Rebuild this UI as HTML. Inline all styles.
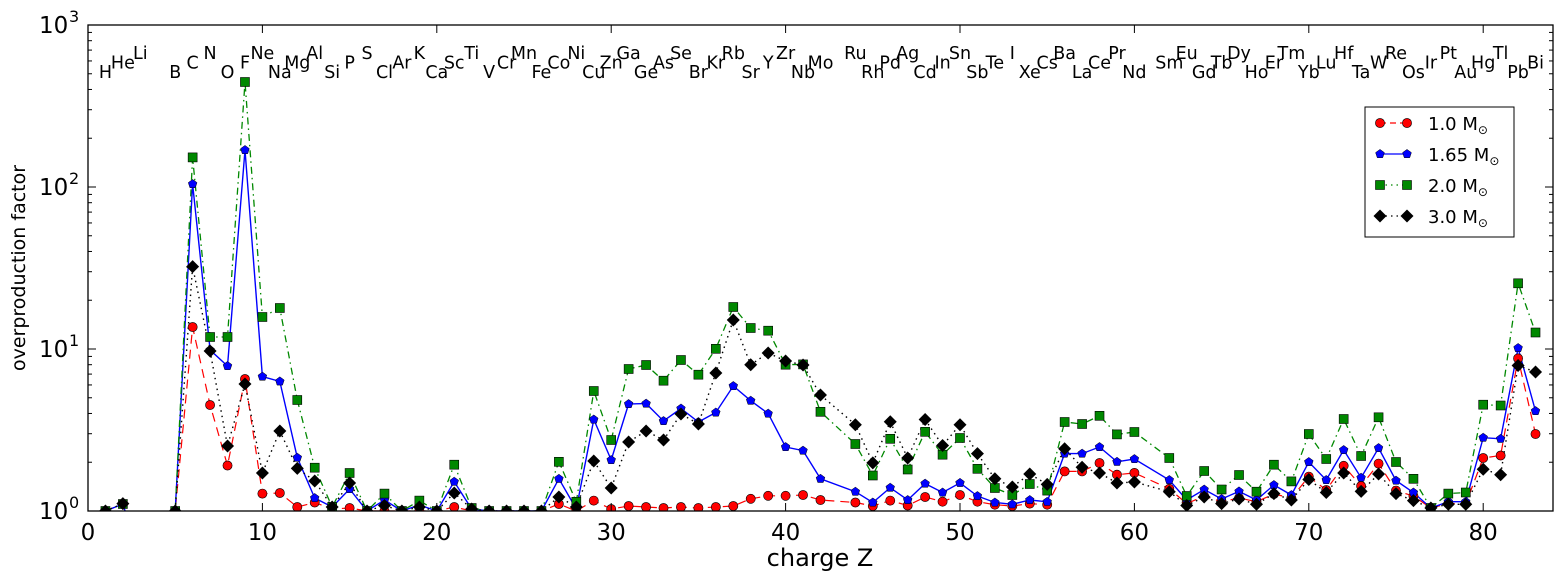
<!DOCTYPE html>
<html><head><meta charset="utf-8"><style>
html,body{margin:0;padding:0;background:#fff;}
svg{display:block;font-family:"DejaVu Sans","Liberation Sans",sans-serif;}
</style></head><body>
<svg id="s" width="1563" height="581" viewBox="0 0 1563 581" xmlns="http://www.w3.org/2000/svg">
<defs><clipPath id="c"><rect x="88" y="25" width="1465" height="486"/></clipPath></defs>
<rect x="0" y="0" width="1563" height="581" fill="#fff"/>
<g id="data" clip-path="url(#c)"></g>
<g id="ticks" stroke="#000" stroke-width="1"></g>
<rect x="88" y="25" width="1465" height="486" fill="none" stroke="#000" stroke-width="1.3"/>
<g font-size="23" text-anchor="middle" fill="#000">
<text x="88" y="540">0</text><text x="262.4" y="540">10</text><text x="436.8" y="540">20</text><text x="611.2" y="540">30</text><text x="785.6" y="540">40</text><text x="960" y="540">50</text><text x="1134.4" y="540">60</text><text x="1308.8" y="540">70</text><text x="1483.2" y="540">80</text>
</g>
<g font-size="23" fill="#000">
<text x="39" y="33">10</text><text x="69" y="22" font-size="16">3</text>
<text x="39" y="195">10</text><text x="69" y="184" font-size="16">2</text>
<text x="39" y="357">10</text><text x="69" y="346" font-size="16">1</text>
<text x="39" y="519">10</text><text x="69" y="508" font-size="16">0</text>
</g>
<text x="820" y="566" font-size="24" text-anchor="middle">charge Z</text>
<text transform="translate(25,268) rotate(-90)" font-size="19" text-anchor="middle">overproduction factor</text>
<g font-size="17.5" text-anchor="middle" fill="#000">
<text x="105.4" y="78">H</text><text x="122.9" y="68.5">He</text><text x="140.3" y="59">Li</text>
<text x="175.2" y="78">B</text><text x="192.6" y="68.5">C</text><text x="210.1" y="59">N</text>
<text x="227.5" y="78">O</text><text x="245" y="68.5">F</text><text x="262.4" y="59">Ne</text>
<text x="279.8" y="78">Na</text><text x="297.3" y="68.5">Mg</text><text x="314.7" y="59">Al</text>
<text x="332.2" y="78">Si</text><text x="349.6" y="68.5">P</text><text x="367" y="59">S</text>
<text x="384.5" y="78">Cl</text><text x="401.9" y="68.5">Ar</text><text x="419.4" y="59">K</text>
<text x="436.8" y="78">Ca</text><text x="454.2" y="68.5">Sc</text><text x="471.7" y="59">Ti</text>
<text x="489.1" y="78">V</text><text x="506.6" y="68.5">Cr</text><text x="524" y="59">Mn</text>
<text x="541.4" y="78">Fe</text><text x="558.9" y="68.5">Co</text><text x="576.3" y="59">Ni</text>
<text x="593.8" y="78">Cu</text><text x="611.2" y="68.5">Zn</text><text x="628.6" y="59">Ga</text>
<text x="646.1" y="78">Ge</text><text x="663.5" y="68.5">As</text><text x="681" y="59">Se</text>
<text x="698.4" y="78">Br</text><text x="715.8" y="68.5">Kr</text><text x="733.3" y="59">Rb</text>
<text x="750.7" y="78">Sr</text><text x="768.2" y="68.5">Y</text><text x="785.6" y="59">Zr</text>
<text x="803" y="78">Nb</text><text x="820.5" y="68.5">Mo</text><text x="855.4" y="59">Ru</text>
<text x="872.8" y="78">Rh</text><text x="890.2" y="68.5">Pd</text><text x="907.7" y="59">Ag</text>
<text x="925.1" y="78">Cd</text><text x="942.6" y="68.5">In</text><text x="960" y="59">Sn</text>
<text x="977.4" y="78">Sb</text><text x="994.9" y="68.5">Te</text><text x="1012.3" y="59">I</text>
<text x="1029.8" y="78">Xe</text><text x="1047.2" y="68.5">Cs</text><text x="1064.6" y="59">Ba</text>
<text x="1082.1" y="78">La</text><text x="1099.5" y="68.5">Ce</text><text x="1117" y="59">Pr</text>
<text x="1134.4" y="78">Nd</text><text x="1169.3" y="68.5">Sm</text><text x="1186.7" y="59">Eu</text>
<text x="1204.2" y="78">Gd</text><text x="1221.6" y="68.5">Tb</text><text x="1239" y="59">Dy</text>
<text x="1256.5" y="78">Ho</text><text x="1273.9" y="68.5">Er</text><text x="1291.4" y="59">Tm</text>
<text x="1308.8" y="78">Yb</text><text x="1326.2" y="68.5">Lu</text><text x="1343.7" y="59">Hf</text>
<text x="1361.1" y="78">Ta</text><text x="1378.6" y="68.5">W</text><text x="1396" y="59">Re</text>
<text x="1413.4" y="78">Os</text><text x="1430.9" y="68.5">Ir</text><text x="1448.3" y="59">Pt</text>
<text x="1465.8" y="78">Au</text><text x="1483.2" y="68.5">Hg</text><text x="1500.6" y="59">Tl</text>
<text x="1518.1" y="78">Pb</text><text x="1535.5" y="68.5">Bi</text>
</g>
<g id="legend">
<rect x="1365" y="107" width="149" height="130" fill="#fff" stroke="#000" stroke-width="1"/>
<g font-size="18" fill="#000">
<text x="1428" y="130">1.0 M<tspan font-size="12" dy="4">⊙</tspan></text>
<text x="1428" y="161">1.65 M<tspan font-size="12" dy="4">⊙</tspan></text>
<text x="1428" y="192">2.0 M<tspan font-size="12" dy="4">⊙</tspan></text>
<text x="1428" y="223">3.0 M<tspan font-size="12" dy="4">⊙</tspan></text>
</g>
</g>
<g id="legm"></g>
</svg>
<script>
var NS="http://www.w3.org/2000/svg";
function X(z){return 88+17.44*z;}
function el(t,a,p){var e=document.createElementNS(NS,t);for(var k in a)e.setAttribute(k,a[k]);p.appendChild(e);return e;}
var Z=[1,2,3,4,5,6,7,8,9,10,11,12,13,14,15,16,17,18,19,20,21,22,23,24,25,26,27,28,29,30,31,32,33,34,35,36,37,38,39,40,41,42,44,45,46,47,48,49,50,51,52,53,54,55,56,57,58,59,60,62,63,64,65,66,67,68,69,70,71,72,73,74,75,76,77,78,79,80,81,82,83];
var R=[511,504,560,560,511,327,405,465.5,379,493.6,493,507,502.5,509,508,511,511,511,511,511,507,511,511,511,511,511,504,511,500.6,509,506,507,508,507,508,507,506,498.8,495.8,495.8,495,500,502.5,506,500.6,505.5,497,501.7,495,501.7,504.7,506,503.6,504.7,471.4,471.4,463,474.7,472.9,488.8,503.6,496,501.7,498,501.7,494,498,476.6,490,465.8,486,463.6,490.6,496,508,503.6,503.6,458,455.5,358.4,434];
var B=[511,504,560,560,511,184,350,366,150,376.6,381.4,457.7,498,507,489,511,500,511,505,511,481.7,509,511,511,511,511,478.8,509,419.5,460,404,403.6,421,408.5,422,412.5,386,400.7,413.6,447,450.6,478.8,491.7,502.5,487.7,500,483.6,492.5,482.9,496,502.5,504.3,500,501.8,453.6,453.6,447,461.8,459,480,500,489.5,499,491.4,500,485,495,462,480,450,477.7,448,480.6,492.5,508,501.7,501.7,437.7,438.8,348,411];
var G=[511,504,560,560,511,157.4,337,337,82,317,308,400,467.7,507,473,511,493.6,511,500.6,511,464.7,508,511,511,511,511,461.8,501.8,391,440,369,365,380.7,360,374.7,348.8,307,328,330.7,364.7,364.4,411.8,444,475.5,438.8,469.5,431.8,454.7,438,468.8,488,495,484,490.6,422,424,415.8,434.4,432,458,496,471,489.5,475,491.7,464.7,481.4,434,459,419,456,417.3,462,478.8,508,493.6,492.5,404.7,405.5,283.3,332.5];
var K=[511,503.6,560,560,511,266.6,351,446,384,473,431,468.4,481,507,483,511,505.5,511,507,511,493,509,511,511,511,511,497,507,461,488,442,431,440,414,424,373,320,364.7,353,361,365,395,424.7,462.9,421.8,458,419.5,445.5,424.7,453.6,478.8,487,474,484.4,448.8,467.3,473,483,482,491.7,505.5,497,503.6,499,504.3,493.6,500,479.5,492.5,473,491.4,474,493.6,500.6,508,504.3,504.3,469.2,474.7,365.5,372];
var D=document.getElementById("data");
function line(Y,col,dash,w){var d="";for(var i=0;i<Z.length;i++)d+=(i?"L":"M")+X(Z[i]).toFixed(1)+","+Y[i];var a={d:d,fill:"none",stroke:col,"stroke-width":w};if(dash)a["stroke-dasharray"]=dash;el("path",a,D);}
function mk(p,t,x,y){
 if(t=="o")el("circle",{cx:x,cy:y,r:4.6,fill:"#f00",stroke:"#000","stroke-width":0.6},p);
 else if(t=="p"){var s="";for(var k=0;k<5;k++){var a=-Math.PI/2+k*2*Math.PI/5;s+=(x+4.6*Math.cos(a)).toFixed(1)+","+(y+4.6*Math.sin(a)).toFixed(1)+" ";}el("polygon",{points:s,fill:"#00f",stroke:"#000","stroke-width":0.5},p);}
 else if(t=="s")el("rect",{x:x-4.5,y:y-4.5,width:9,height:9,fill:"#080",stroke:"#000","stroke-width":0.6},p);
 else el("polygon",{points:x+","+(y-6.5)+" "+(x+6.5)+","+y+" "+x+","+(y+6.5)+" "+(x-6.5)+","+y,fill:"#000"},p);}
function marks(Y,t){for(var i=0;i<Z.length;i++)mk(D,t,X(Z[i]),Y[i]);}
line(R,"#f00","9,6",1.2);line(B,"#00f",null,1.4);line(G,"#080","7,4,1.5,4",1.3);line(K,"#000","1.5,4",1.4);
marks(R,"o");marks(B,"p");marks(G,"s");marks(K,"d");
var T=document.getElementById("ticks");
for(var z=0;z<=80;z+=10){var x=X(z);el("line",{x1:x,y1:511,x2:x,y2:503},T);el("line",{x1:x,y1:25,x2:x,y2:33},T);}
for(var dd=0;dd<3;dd++)for(var m=1;m<=10;m++){var y=511-162*(dd+Math.log10(m));var L=(m==1||m==10)?8:4;el("line",{x1:88,y1:y,x2:88+L,y2:y},T);el("line",{x1:1553,y1:y,x2:1553-L,y2:y},T);}
var LG=document.getElementById("legm");
var ly=[123,154,185,216],lc=["#f00","#00f","#080","#000"],ld=["6,4",null,"1.5,4","1.5,4"],lt=["o","p","s","d"];
for(var i=0;i<4;i++){var a={x1:1380,y1:ly[i],x2:1407,y2:ly[i],stroke:lc[i],"stroke-width":1.2};if(ld[i])a["stroke-dasharray"]=ld[i];el("line",a,LG);mk(LG,lt[i],1380,ly[i]);mk(LG,lt[i],1407,ly[i]);}
</script>
</body></html>
